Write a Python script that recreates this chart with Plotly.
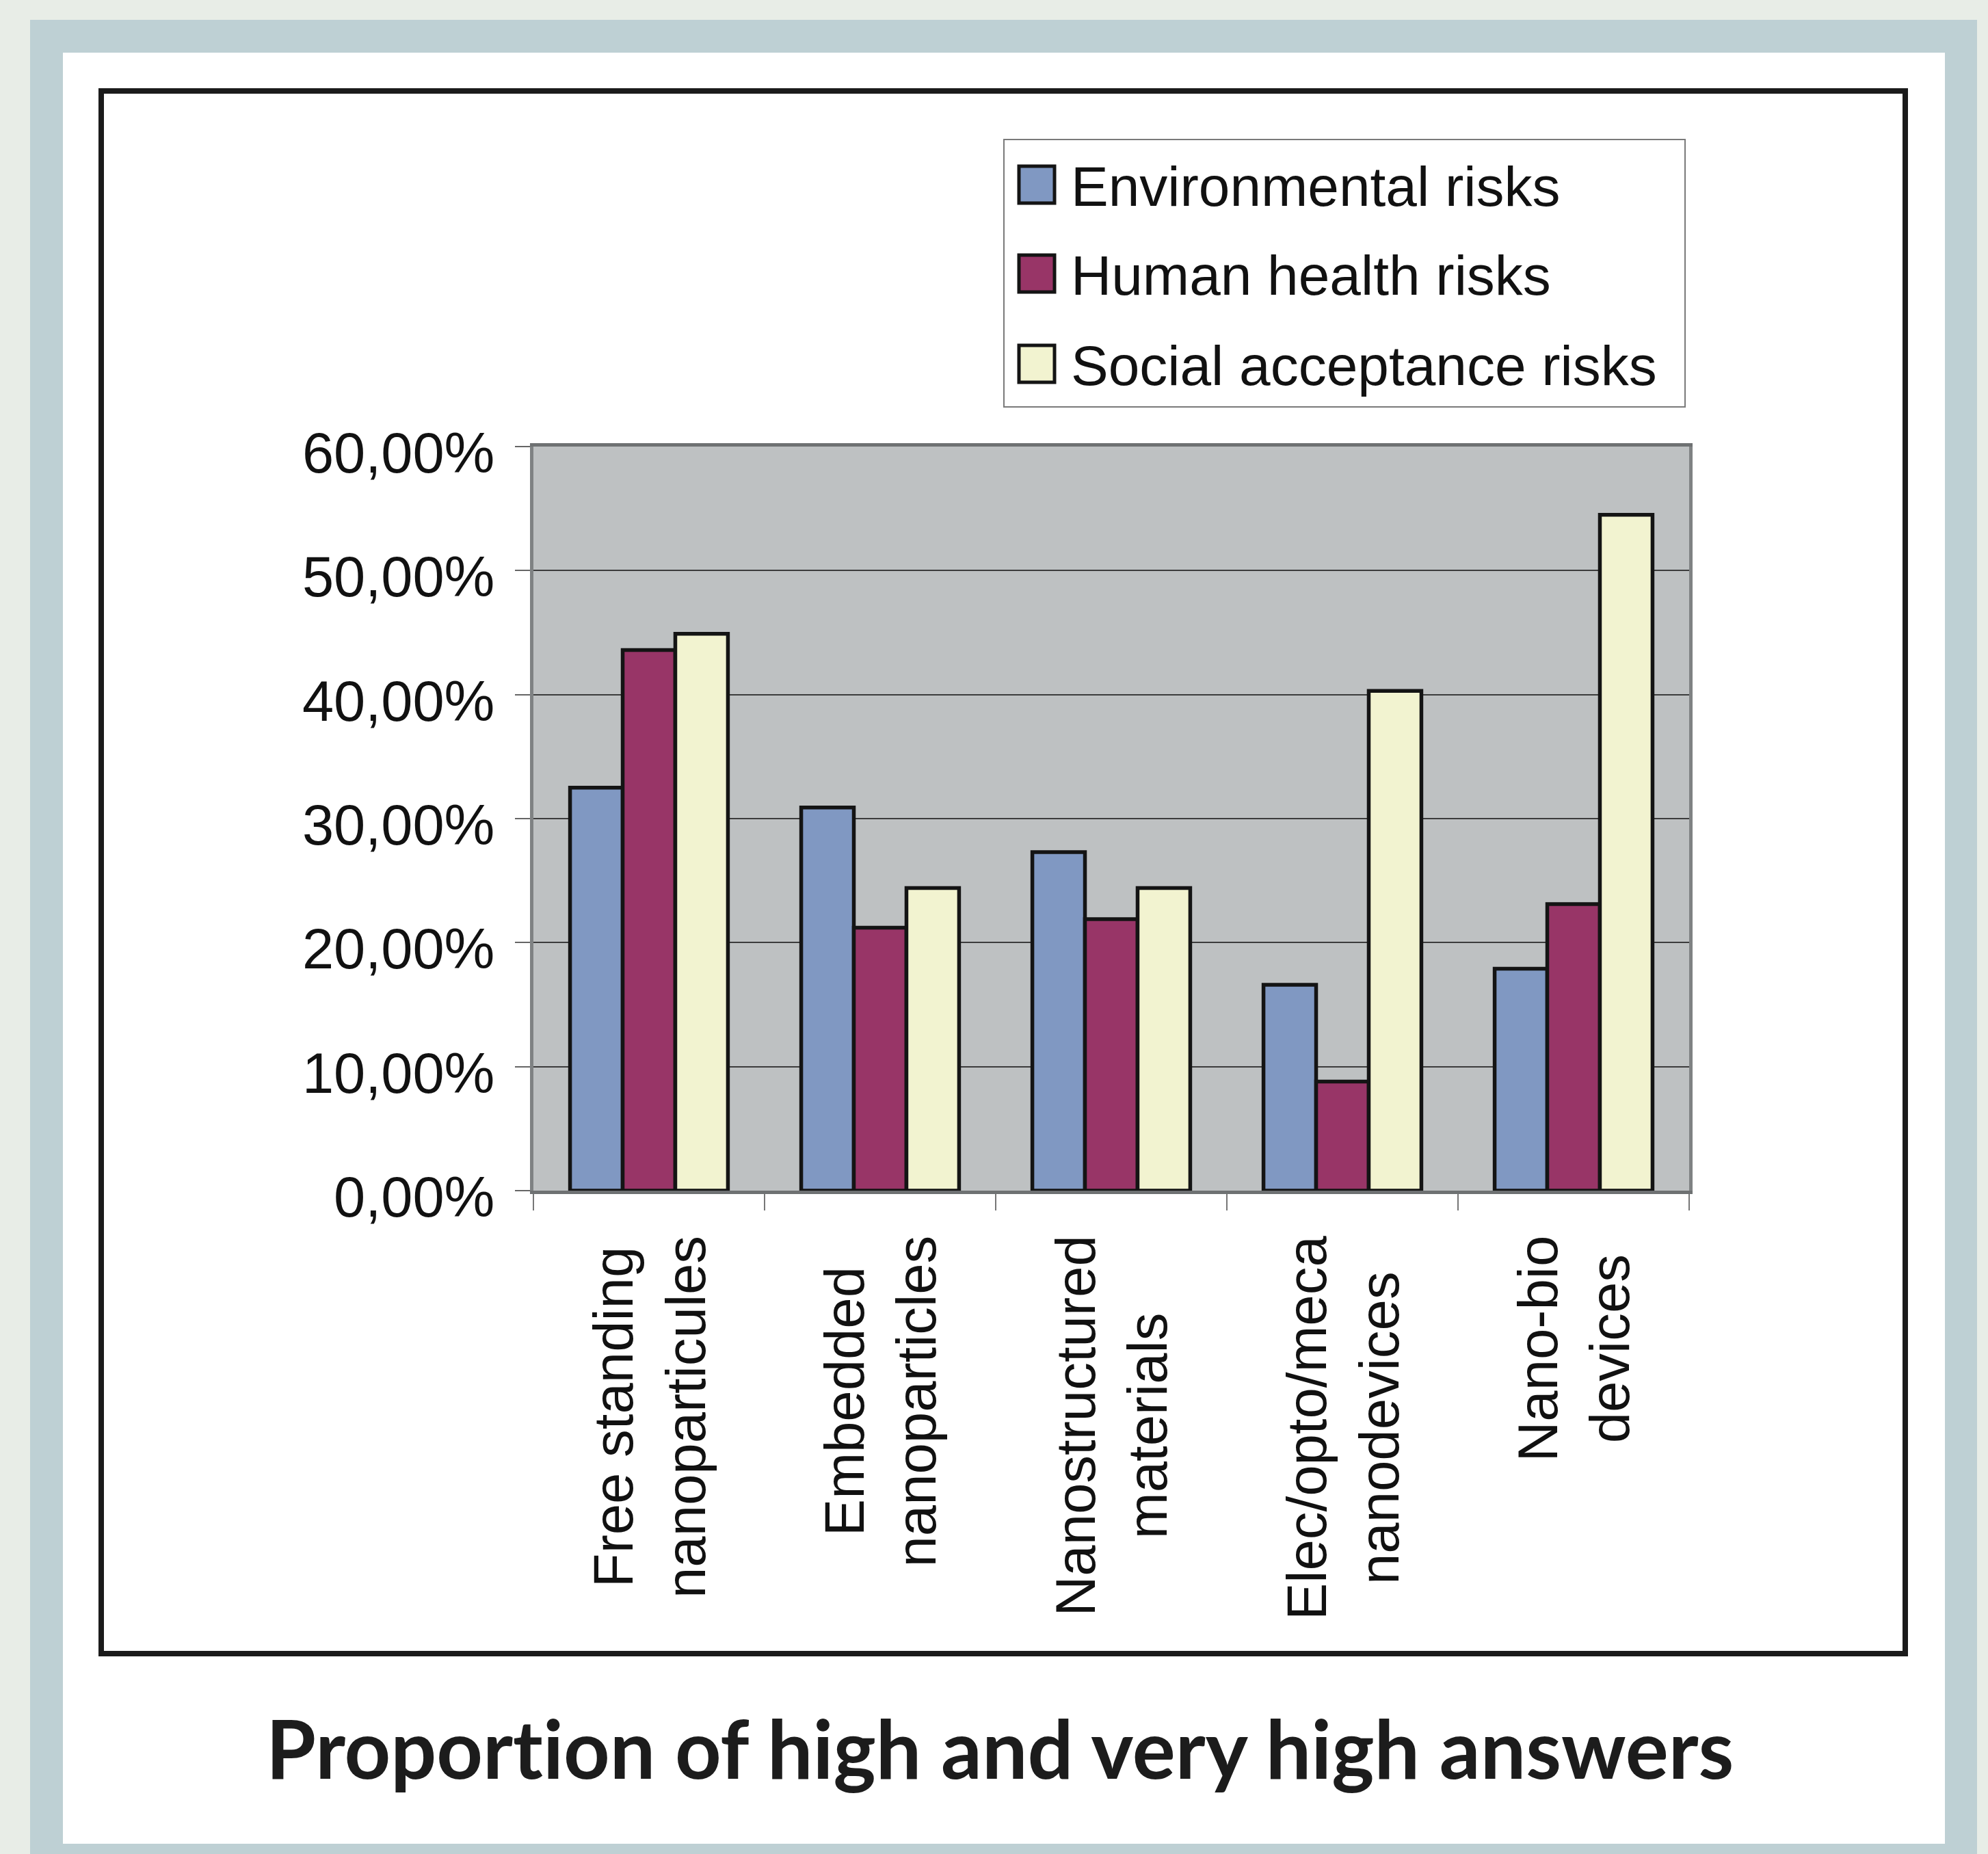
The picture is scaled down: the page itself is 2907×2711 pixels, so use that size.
import plotly.graph_objects as go

# ---------------- data ----------------
categories = [
    "Free standing<br>nanoparticules",
    "Embedded<br>nanoparticles",
    "Nanostructured<br>materials",
    "Elec/opto/meca<br>nanodevices",
    "Nano-bio<br>devices",
]
series_names = ["Environmental risks", "Human health risks", "Social acceptance risks"]
environmental = [0.325, 0.309, 0.273, 0.166, 0.179]
human_health = [0.436, 0.212, 0.219, 0.088, 0.231]
social_acceptance = [0.449, 0.244, 0.244, 0.403, 0.545]
y_ticks = [0, 0.1, 0.2, 0.3, 0.4, 0.5, 0.6]
title_text = "Proportion of high and very high answers"

colors = ["#8098C2", "#983567", "#F2F3D0"]
series_values = [environmental, human_health, social_acceptance]

# ---------------- geometry helpers (pixel -> paper) ----------------
W, H = 2907, 2711
PL, PR, PT, PB = 780, 2470, 653, 1741
PW, PH = PR - PL, PB - PT


def fx(px):
    return (px - PL) / PW


def fy(py):
    return (PB - py) / PH


fig = go.Figure()
for name, vals, col in zip(series_names, series_values, colors):
    fig.add_trace(go.Bar(
        x=categories, y=vals, name=name,
        marker=dict(color=col, line=dict(color="#141414", width=5.5)),
        showlegend=False,
    ))

shapes = [
    # outer blue-grey frame
    dict(type="rect", xref="paper", yref="paper", x0=fx(44), x1=fx(2891), y0=fy(H + 30), y1=fy(29),
         fillcolor="#BED0D4", line=dict(width=0), layer="below"),
    # white page
    dict(type="rect", xref="paper", yref="paper", x0=fx(92), x1=fx(2844), y0=fy(2696), y1=fy(77),
         fillcolor="#FFFFFF", line=dict(width=0), layer="below"),
    # black chart frame
    dict(type="rect", xref="paper", yref="paper", x0=fx(148), x1=fx(2786), y0=fy(2418), y1=fy(133),
         fillcolor="rgba(0,0,0,0)", line=dict(color="#1B1B1B", width=8), layer="below"),
    # plot background
    dict(type="rect", xref="paper", yref="paper", x0=0, x1=1, y0=0, y1=1,
         fillcolor="#BEC1C2", line=dict(width=0), layer="below"),
    # legend box
    dict(type="rect", xref="paper", yref="paper", x0=fx(1468), x1=fx(2464), y0=fy(595), y1=fy(204),
         fillcolor="#FFFFFF", line=dict(color="#7A7A7A", width=2), layer="below"),
]

annotations = []
row_centers = [270, 400, 532]
for name, col, rc in zip(series_names, colors, row_centers):
    shapes.append(dict(type="rect", xref="paper", yref="paper",
                       x0=fx(1490), x1=fx(1542), y0=fy(rc + 27), y1=fy(rc - 27),
                       fillcolor=col, line=dict(color="#141414", width=5)))
    annotations.append(dict(text=name, xref="paper", yref="paper", x=fx(1564), y=fy(rc + 2),
                            xanchor="left", yanchor="middle", showarrow=False,
                            font=dict(family="Liberation Sans, Arial, sans-serif", size=82, color="#111111")))

for cat in categories:
    annotations.append(dict(text=cat, xref="x", yref="paper", x=cat, y=fy(1805),
                            xanchor="center", yanchor="top", textangle=-90, align="center",
                            showarrow=False,
                            font=dict(family="Liberation Sans, Arial, sans-serif", size=81.5, color="#111111")))

annotations.append(dict(text=title_text, xref="paper", yref="paper", x=fx(1462), y=fy(2555),
                        xanchor="center", yanchor="middle", showarrow=False,
                        font=dict(family="Lato, Open Sans, sans-serif", size=118, weight=700, color="#1C1C1C")))

fig.update_layout(
    width=W, height=H, autosize=False,
    margin=dict(l=PL, r=W - PR, t=PT, b=H - PB, pad=0),
    paper_bgcolor="#E8EDE7",
    plot_bgcolor="rgba(0,0,0,0)",
    barmode="group", bargap=0.317, bargroupgap=0,
    separators=", ",
    shapes=shapes,
    annotations=annotations,
    showlegend=False,
)
fig.update_xaxes(
    showticklabels=False, ticks="outside", tickson="boundaries", ticklen=24,
    tickcolor="#777777", tickwidth=2,
    showline=True, linecolor="#6E7172", linewidth=5, mirror=True,
    showgrid=False,
)
fig.update_yaxes(
    range=[0, 0.6], tickvals=y_ticks, tickformat=".2%",
    ticks="outside", ticklen=22, tickcolor="#666666", tickwidth=2,
    ticklabelstandoff=13, ticklabelshift=9,
    tickfont=dict(family="Liberation Sans, Arial, sans-serif", size=83, color="#111111"),
    showline=True, linecolor="#7F8283", linewidth=5, mirror=True,
    showgrid=True, gridcolor="#3C3C3C", gridwidth=2, zeroline=False,
)

post = (
    "document.body.style.margin='0px';"
    "document.body.style.overflow='hidden';"
    "document.querySelectorAll('text').forEach(function(t){t.style.fontVariantLigatures='none';});"
)
fig.write_html("out.html", post_script=post, config={"displayModeBar": False})
